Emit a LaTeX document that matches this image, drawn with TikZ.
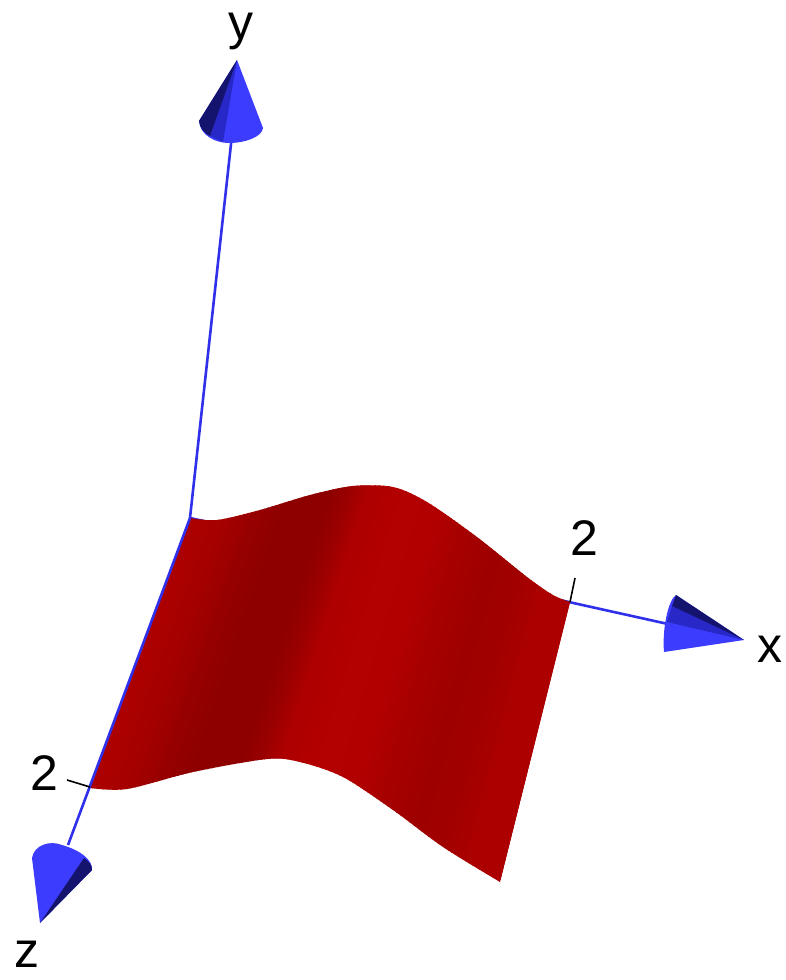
\documentclass[tikz,border=0pt]{standalone}
\usepackage{fontspec}
\setmainfont{Liberation Sans}
\definecolor{axisblue}{RGB}{48,48,235}
\definecolor{conelight}{RGB}{60,60,255}
\definecolor{conemid}{RGB}{40,40,200}
\definecolor{conedark}{RGB}{20,20,110}
\begin{document}
\begin{tikzpicture}[x=1pt,y=-1pt,
  axis/.style={line width=2.6pt, color=axisblue},
  tickline/.style={line width=1.6pt, black},
  lab/.style={font=\fontsize{50}{55}\selectfont, inner sep=0pt, anchor=base}]
\useasboundingbox (0,0) rectangle (785,980);
\coordinate (O) at (190,518);
\coordinate (X2) at (570,602);
\coordinate (Z2) at (90,787);
\coordinate (xend) at (668,624);
\coordinate (yend) at (232,135);
\coordinate (zend) at (68,845);
\coordinate (X2t) at (575,578);
\coordinate (Z2t) at (67,780);
% axes hidden partly behind the surface
\draw[axis] (O) -- (xend);
\draw[axis] (O) -- (yend);
% surface
\begin{scope}
\clip plot[smooth] coordinates {(190,518) (217,520) (260,510) (310,495) (353,486) (393,487) (427,502) (477,537) (527,577) (553,595) (570,602)}
  -- plot[smooth] coordinates {(500,882) (443,847) (393,810) (343,777) (300,762) (267,759) (193,772) (127,789) (90,788)} -- cycle;
\foreach \xa/\ra/\xb/\rb in {135/176/180/166, 180/166/210/152, 210/152/240/142, 240/142/280/142, 280/142/300/154, 300/154/320/174, 320/174/360/180, 360/180/400/178, 400/178/430/168, 430/168/470/158, 470/158/500/162, 500/162/530/172, 530/172/590/174}{
  \foreach \i in {0,...,7}{
    \pgfmathsetmacro\xx{\xa+(\xb-\xa)*\i/8}
    \pgfmathsetmacro\rr{int(\ra+(\rb-\ra)*(\i+0.5)/8)}
    \pgfmathsetmacro\ww{(\xb-\xa)/8+1.5}
    \pgfmathsetmacro\sl{-0.37+0.12*(\xx-145)/415}
    \pgfmathsetmacro\xt{\xx+\sl*(470-640)}
    \pgfmathsetmacro\xbot{\xx+\sl*(900-640)}
    \definecolor{sc}{RGB}{\rr,0,0}
    \fill[sc] (\xt,470) -- ++(\ww,0) -- (\xbot+\ww,900) -- (\xbot,900) -- cycle;
  }
}
\end{scope}
\draw[axis] (O) -- (zend);
% ticks
\draw[tickline] (X2) -- (X2t);
\draw[tickline] (Z2) -- (Z2t);
% y cone
\fill[conelight] (237,60) -- (199,121) .. controls (200,135) and (215,143) .. (229,143) .. controls (245,143) and (262,137) .. (263,128) -- cycle;
\fill[conemid] (237,60) -- (210,136) -- (223,142) -- cycle;
\fill[conedark] (237,60) -- (199,121) .. controls (200,128) and (203,132) .. (210,136) -- cycle;
% x cone
\fill[conelight] (744,640) -- (676,595) .. controls (668,600) and (662,630) .. (664,652) -- cycle;
\fill[conemid] (744,640) -- (672,606) -- (667,622) -- cycle;
\fill[conedark] (744,640) -- (676,595) -- (672,606) -- cycle;
% z cone
\fill[conelight] (40,923) -- (32,858) .. controls (34,845) and (50,840) .. (62,845) .. controls (80,850) and (93,860) .. (92,870) -- cycle;
\fill[conedark] (40,923) -- (84,858) .. controls (90,862) and (92,866) .. (92,870) -- cycle;
% labels
\node[lab] (ylab) at (241,39) {y};
\node[lab] (xlab) at (770,662) {x};
\node[lab] (zlab) at (27,967) {z};
\node[lab] (x2lab) at (584,555) {2};
\node[lab] (z2lab) at (44,790) {2};
\end{tikzpicture}
\end{document}
